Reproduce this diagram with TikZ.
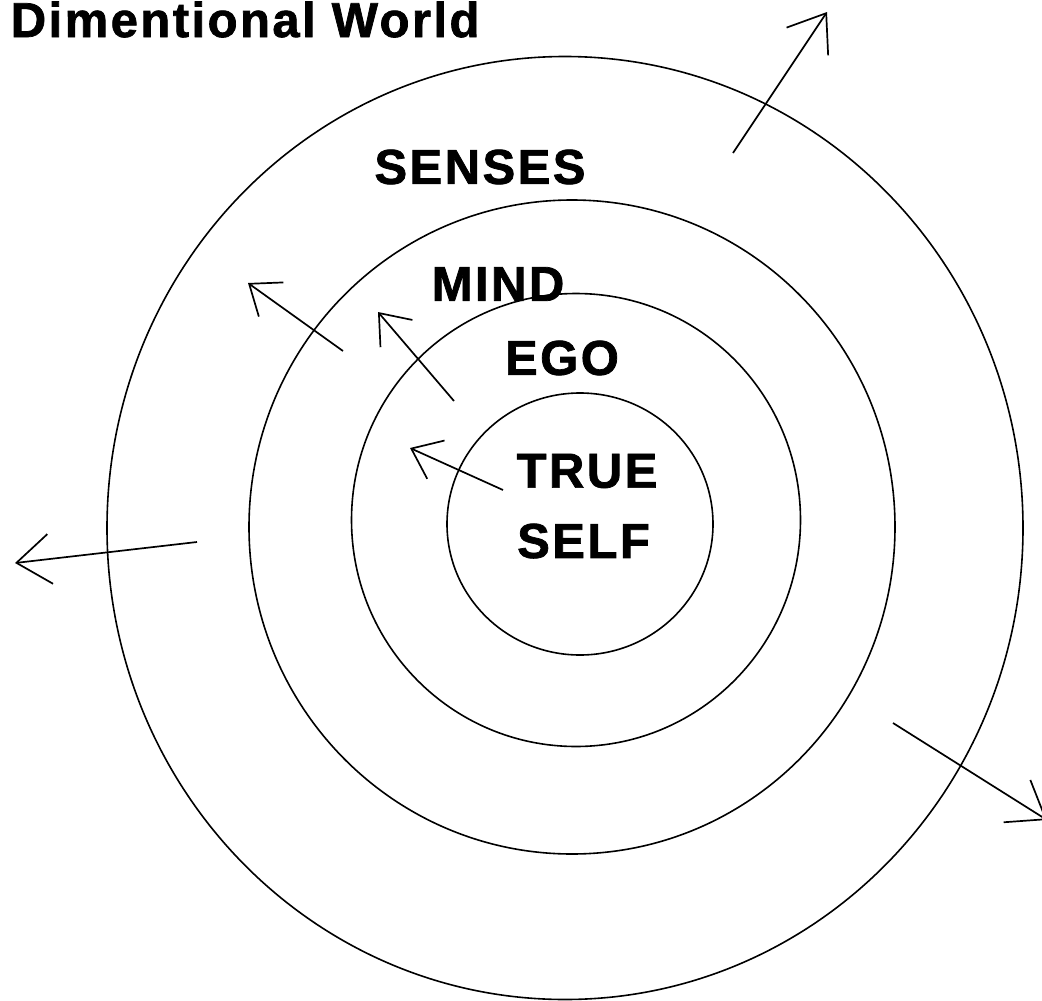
\documentclass[tikz,border=0pt]{standalone}
\usepackage{fontspec}
\setmainfont{Liberation Sans}
\newfontfamily\ringfont{Liberation Sans}[LetterSpace=5, FakeBold=1.5]
\usetikzlibrary{arrows.meta,positioning,shapes.geometric}

\begin{document}
\begin{tikzpicture}[
  x=1pt, y=-1pt,
  line width=1.6pt,
  ring/.style={draw, ellipse, inner sep=0pt},
  tag/.style={inner sep=0pt, font=\ringfont\bfseries\fontsize{49}{55}\selectfont},
  bigout/.style={-{Straight Barb[length=34pt, width=50pt]}, line width=1.7pt},
  smallout/.style={-{Straight Barb[length=27pt, width=42pt]}, line width=1.7pt}
]
\useasboundingbox (0,0) rectangle (1042,1001);

% the four layers
\node[ring, minimum width=916pt, minimum height=943pt] (senses) at (565,528) {};
\node[ring, minimum width=646pt, minimum height=654pt] (mind) at (572,527) {};
\node[ring, minimum width=449pt, minimum height=453pt] (ego) at (576,520) {};
\node[ring, minimum width=266pt, minimum height=262pt] (self) at (580,524) {};

% labels
\node[tag, anchor=base west] (title) at (10,37) {Dimentional World};
\node[tag] (sensestag) at (480,167) {SENSES};
\node[tag] (mindtag) at (498,284) {MIND};
\node[tag] (egotag) at (562,358) {EGO};
\node[tag] (truetag) at (587,471) {TRUE};
\node[tag, below=34pt of truetag, xshift=-3.5pt] (selftag) {SELF};

% arrows pointing outwards
\coordinate (ne1) at (733,153);  \coordinate (ne2) at (827,12);
\coordinate (w1) at (197,542);   \coordinate (w2) at (15,563);
\coordinate (se1) at (893,723);  \coordinate (se2) at (1047,820);
\coordinate (nw1) at (343,351);  \coordinate (nw2) at (248,283);
\coordinate (mw1) at (454,401);  \coordinate (mw2) at (378,312);
\coordinate (iw1) at (503,490);  \coordinate (iw2) at (410,448);

\draw[bigout] (ne1) -- (ne2);
\draw[bigout] (w1) -- (w2);
\draw[bigout] (se1) -- (se2);
\draw[smallout] (nw1) -- (nw2);
\draw[smallout] (mw1) -- (mw2);
\draw[smallout] (iw1) -- (iw2);
\end{tikzpicture}
\end{document}
